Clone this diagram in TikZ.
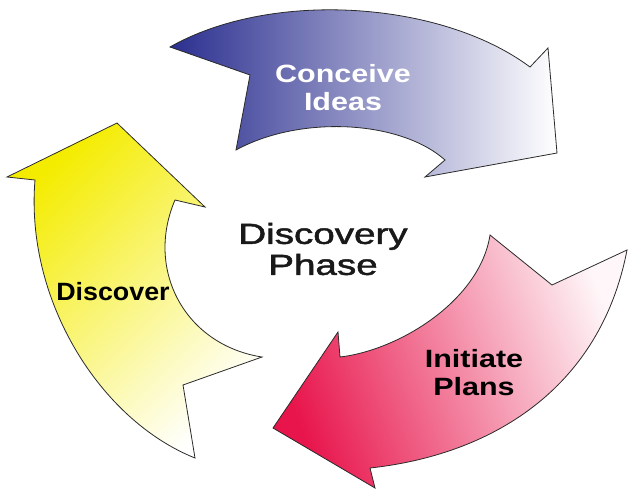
\documentclass[tikz,border=0pt]{standalone}
\usepackage{fontspec}
\setmainfont{Liberation Sans}
\newfontfamily\centrefont[FakeBold=1.5]{Liberation Sans}
\definecolor{navy}{HTML}{2B2F8F}
\definecolor{lemon}{HTML}{F4EC00}
\definecolor{crimson}{HTML}{E8154C}
\definecolor{outline}{HTML}{2A2A2A}
\begin{document}
\begin{tikzpicture}[x=1pt,y=-1pt,
  arrowshape/.style={draw=outline, line width=0.8pt, line join=miter},
  lbl/.style={font=\bfseries\fontsize{25}{28}\selectfont, align=center, xscale=1.22, inner sep=0pt}]
\useasboundingbox (0,0) rectangle (628,492);

% top arrow: Conceive Ideas
\path[arrowshape, left color=navy, right color=white]
  (170,47) .. controls (270,-10) and (440,0) .. (530,67)
  -- (548,48) -- (557,153) -- (425,177) -- (445,160)
  .. controls (400,120) and (300,115) .. (236,150)
  -- (250,75) -- cycle;

% left arrow: Discover
\path[arrowshape, top color=lemon, bottom color=white, shading angle=45]
  (117,123) -- (205,207) -- (175,200)
  .. controls (145,270) and (185,345) .. (262,357)
  -- (183,385) -- (195,458)
  .. controls (100,420) and (25,300) .. (35,180)
  -- (7,177) -- cycle;

% right arrow: Initiate Plans
\path[arrowshape, top color=crimson, middle color=crimson!50!white,
      bottom color=crimson!4!white, shading angle=110]
  (490,235) .. controls (480,300) and (400,350) .. (340,357)
  -- (338,332) -- (273,428) -- (375,488) -- (370,468)
  .. controls (490,455) and (600,390) .. (627,250)
  -- (552,285) -- cycle;

% labels
\node[lbl, text=white] (conceive) at (343,88) {Conceive\\Ideas};
\node[lbl, xscale=0.88] (discover) at (113,292) {Discover};
\node[lbl] (initiate) at (474,373) {Initiate\\Plans};
\node[font=\centrefont\fontsize{29}{31}\selectfont, align=center, xscale=1.33, inner sep=0pt, text=black!90] (phase) at (323,249) {Discovery\\Phase};
\end{tikzpicture}
\end{document}
